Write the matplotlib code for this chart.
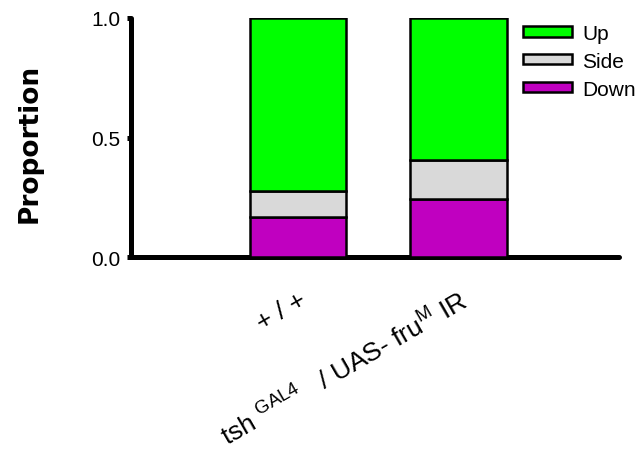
import matplotlib
matplotlib.use('Agg')
import matplotlib.pyplot as plt
from matplotlib.patches import Patch

plt.rcParams['font.family'] = ['Liberation Sans', 'DejaVu Sans']
plt.rcParams['mathtext.fontset'] = 'custom'
plt.rcParams['mathtext.rm'] = 'Liberation Sans'
plt.rcParams['mathtext.it'] = 'Liberation Sans'

categories = ['+ / +', r'tsh $^{\mathrm{GAL4}}$   / UAS- fru$^{\mathrm{M}}$ IR']
down = [0.167, 0.243]
side = [0.109, 0.163]
up = [0.724, 0.594]
series_names = ['Up', 'Side', 'Down']
colors = {'Up': '#00FF00', 'Side': '#D9D9D9', 'Down': '#C000C0'}
yticks = [0.0, 0.5, 1.0]
ytick_labels = ['0.0', '0.5', '1.0']

fig = plt.figure(figsize=(6.42, 4.60), dpi=100)
ax = fig.add_axes([131/642, 1-258/460, (619-131)/642, (258-19)/460])

x = [1, 2]
bot_side = list(down)
bot_up = [d + s for d, s in zip(down, side)]
kw = dict(width=0.6, edgecolor='black', linewidth=1.8, zorder=3)
ax.bar(x, down, color=colors['Down'], **kw)
ax.bar(x, side, bottom=bot_side, color=colors['Side'], **kw)
ax.bar(x, up, bottom=bot_up, color=colors['Up'], **kw)

ax.set_xlim(-0.04, 3.0)
ax.set_ylim(0, 1.0)
ax.set_yticks(yticks)
ax.set_yticklabels(ytick_labels, fontsize=15)
ax.tick_params(axis='y', length=3, width=3.6, pad=4.5, colors='black')
ax.tick_params(axis='x', length=0, pad=22)
ax.set_xticks(x)
ax.set_xticklabels(categories, fontsize=19)
for lab in ax.get_xticklabels():
    lab.set_rotation(30)
    lab.set_ha('right')
    lab.set_va('top')
    lab.set_rotation_mode('anchor')

for s in ['top', 'right']:
    ax.spines[s].set_visible(False)
for s in ['left', 'bottom']:
    ax.spines[s].set_linewidth(3.6)
    ax.spines[s].set_capstyle('round')

fig.text(30/642, 1-143/460, 'Proportion', rotation=90, ha='center', va='center',
         fontsize=19, fontweight='bold', family='DejaVu Sans')

handles = [Patch(facecolor=colors[n], edgecolor='black', linewidth=1.8) for n in series_names]
fig.legend(handles, series_names, loc='upper left', bbox_to_anchor=(523/642, 1-25/460),
           frameon=False, fontsize=15, handlelength=2.35, handleheight=0.38,
           labelspacing=0.42, handletextpad=0.5, borderaxespad=0, borderpad=0)

fig.savefig('out.png', dpi=100)
